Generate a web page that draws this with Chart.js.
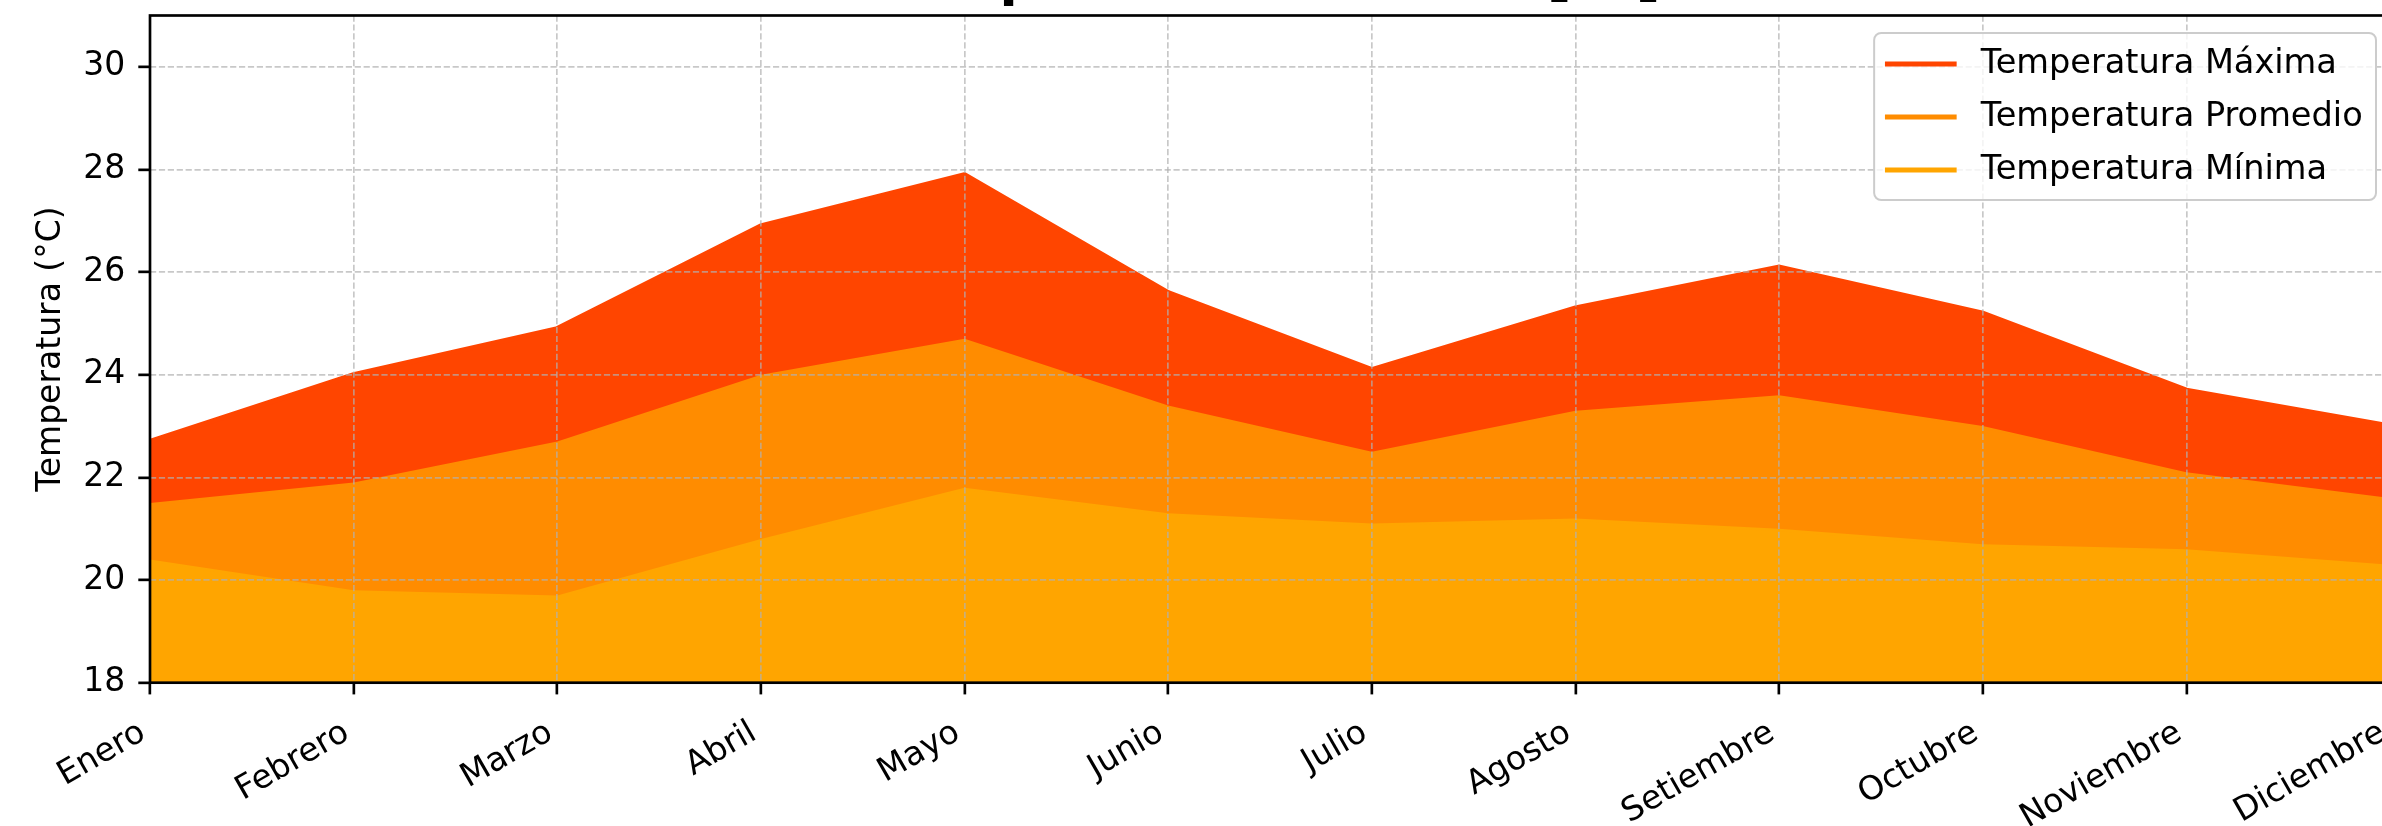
<!DOCTYPE html>
<html lang="es">
<head>
<meta charset="utf-8">
<title>Temperatura Mensual</title>
<script src="https://cdn.jsdelivr.net/npm/chart.js@4.4.1/dist/chart.umd.min.js"></script>
<style>
  html, body { margin: 0; padding: 0; background: #fff; overflow: hidden; }
  body { width: 2382px; height: 826px; position: relative; }
  #grafico { position: absolute; left: 0; top: -54px; }
</style>
</head>
<body>
<canvas id="grafico" width="2430" height="880"></canvas>
<script>
const meses = ['Enero', 'Febrero', 'Marzo', 'Abril', 'Mayo', 'Junio', 'Julio', 'Agosto', 'Setiembre', 'Octubre', 'Noviembre', 'Diciembre'];
const tempMaxima = [22.7, 24.0, 24.9, 26.9, 27.9, 25.6, 24.1, 25.3, 26.1, 25.2, 23.7, 23.0];
const tempPromedio = [21.5, 21.9, 22.7, 24.0, 24.7, 23.4, 22.5, 23.3, 23.6, 23.0, 22.1, 21.6];
const tempMinima = [20.4, 19.8, 19.7, 20.8, 21.8, 21.3, 21.1, 21.2, 21.0, 20.7, 20.6, 20.3];
const ticksY = [18, 20, 22, 24, 26, 28, 30];

const negro = '#000000';
const colorGrilla = 'rgba(176,176,176,0.7)';

Chart.defaults.font.family = "'DejaVu Sans', sans-serif";
Chart.defaults.font.size = 33;
Chart.defaults.color = negro;

// marco del grafico (los cuatro lados)
const marco = {
    id: 'marco',
    afterDraw(chart) {
        const {ctx, chartArea} = chart;
        ctx.save();
        ctx.strokeStyle = negro;
        ctx.lineWidth = 2.67;
        ctx.strokeRect(chartArea.left, chartArea.top, chartArea.right - chartArea.left, chartArea.bottom - chartArea.top);
        ctx.restore();
    }
};

// leyenda dentro del area, arriba a la derecha
const leyenda = {
    id: 'leyenda',
    afterDraw(chart) {
        const {ctx, chartArea} = chart;
        const items = chart.data.datasets;
        const pad = 13.3, largo = 66.7, sep = 26.7;
        ctx.save();
        ctx.font = "33.6px 'DejaVu Sans'";
        const anchoTexto = Math.max(...items.map(d => ctx.measureText(d.label).width));
        const w = 2 * pad + largo + sep + anchoTexto;
        const h = 167;
        const x0 = chartArea.right - 14 - w;
        const y0 = chartArea.top + 17.5;
        ctx.fillStyle = 'rgba(255,255,255,0.8)';
        ctx.strokeStyle = '#cccccc';
        ctx.lineWidth = 2;
        ctx.beginPath();
        ctx.roundRect(x0, y0, w, h, 7);
        ctx.fill();
        ctx.stroke();
        items.forEach((d, i) => {
            const yc = y0 + 31 + i * 53;
            ctx.strokeStyle = d.borderColor;
            ctx.lineWidth = 5;
            ctx.lineCap = 'square';
            ctx.beginPath();
            ctx.moveTo(x0 + pad, yc);
            ctx.lineTo(x0 + pad + largo, yc);
            ctx.stroke();
            ctx.fillStyle = negro;
            ctx.textAlign = 'left';
            ctx.textBaseline = 'middle';
            ctx.fillText(d.label, x0 + pad + largo + sep, yc);
        });
        ctx.restore();
    }
};

new Chart(document.getElementById('grafico'), {
    type: 'line',
    data: {
        labels: meses,
        datasets: [
            { label: 'Temperatura Máxima', data: tempMaxima, borderColor: '#ff4500', backgroundColor: '#ff4500', fill: '+1' },
            { label: 'Temperatura Promedio', data: tempPromedio, borderColor: '#ff8c00', backgroundColor: '#ff8c00', fill: '+1' },
            { label: 'Temperatura Mínima', data: tempMinima, borderColor: '#ffa500', backgroundColor: '#ffa500', fill: 'start' }
        ]
    },
    options: {
        responsive: false,
        animation: false,
        layout: { padding: { left: 0, top: 0, right: 40, bottom: 0 } },
        elements: {
            point: { radius: 0 },
            line: { borderWidth: 5, tension: 0 }
        },
        plugins: {
            legend: { display: false },
            tooltip: { enabled: false },
            title: {
                display: true,
                text: 'Temperatura Mensual [°C]',
                fullSize: false,
                color: negro,
                font: { size: 53, weight: 'bold' },
                padding: { top: 3, bottom: 2.9 }
            }
        },
        scales: {
            x: {
                afterFit: (eje) => { eje.height = 143.3; },
                grid: { color: colorGrilla, lineWidth: 1.7, z: 1, tickColor: negro, tickWidth: 2.67, tickLength: 11.7 },
                border: { display: false, dash: [6.2, 2.7] },
                ticks: { color: negro, minRotation: 30, maxRotation: 30, autoSkip: false, padding: 19, labelOffset: -7 }
            },
            y: {
                min: 18,
                max: 31,
                afterBuildTicks: (eje) => { eje.ticks = ticksY.map(v => ({ value: v })); },
                afterFit: (eje) => { eje.width = 150; },
                grid: { color: colorGrilla, lineWidth: 1.7, z: 1, tickColor: negro, tickWidth: 2.67, tickLength: 11.7 },
                border: { display: false, dash: [6.2, 2.7] },
                ticks: { color: negro, padding: 13 },
                title: { display: true, text: 'Temperatura (°C)', color: negro, padding: { top: 32, bottom: 0 } }
            }
        }
    },
    plugins: [marco, leyenda]
});
</script>
</body>
</html>
